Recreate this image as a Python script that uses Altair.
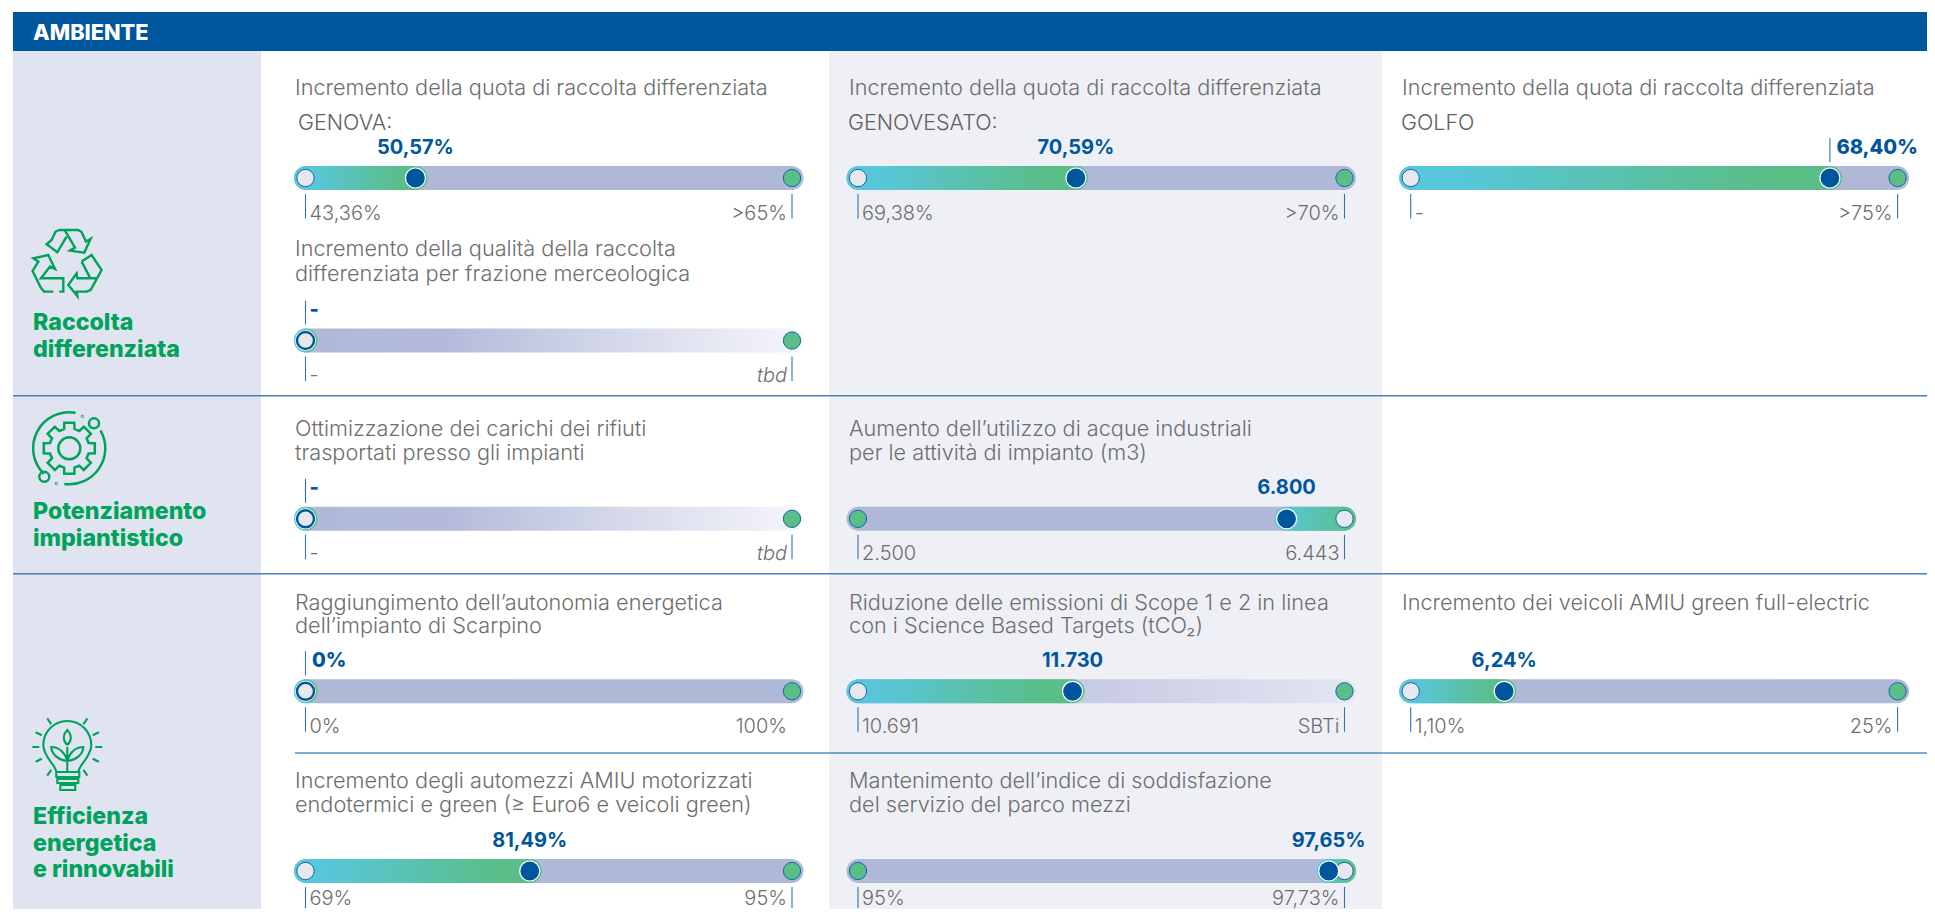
import math
import altair as alt
import pandas as pd

# ---------- chart content ----------
section_title = "AMBIENTE"
categories = [["Raccolta", "differenziata"],
              ["Potenziamento", "impiantistico"],
              ["Efficienza", "energetica", "e rinnovabili"]]
gauge_titles = [
    ["Incremento della quota di raccolta differenziata"],
    ["Incremento della quota di raccolta differenziata"],
    ["Incremento della quota di raccolta differenziata"],
    ["Incremento della qualità della raccolta", "differenziata per frazione merceologica"],
    ["Ottimizzazione dei carichi dei rifiuti", "trasportati presso gli impianti"],
    ["Aumento dell’utilizzo di acque industriali", "per le attività di impianto (m3)"],
    ["Raggiungimento dell’autonomia energetica", "dell’impianto di Scarpino"],
    ["Riduzione delle emissioni di Scope 1 e 2 in linea", "con i Science Based Targets (tCO₂)"],
    ["Incremento dei veicoli AMIU green full-electric"],
    ["Incremento degli automezzi AMIU motorizzati", "endotermici e green (≥ Euro6 e veicoli green)"],
    ["Mantenimento dell’indice di soddisfazione", "del servizio del parco mezzi"],
]
sub_labels = ["GENOVA:", "GENOVESATO:", "GOLFO", "", "", "", "", "", "", "", ""]
value_labels = ["50,57%", "70,59%", "68,40%", "-", "-", "6.800", "0%", "11.730", "6,24%", "81,49%", "97,65%"]
start_labels = ["43,36%", "69,38%", "-", "-", "-", "2.500", "0%", "10.691", "1,10%", "69%", "95%"]
end_labels = [">65%", ">70%", ">75%", "tbd", "tbd", "6.443", "100%", "SBTi", "25%", "95%", "97,73%"]
# where the current value sits along the track (0 = left dot, 1 = right dot)
value_positions = [0.226, 0.448, 0.861, 0.0, 0.0, 0.881, 0.0, 0.441, 0.192, 0.461, 0.9675]

# ---------- layout (page pixels) ----------
W, H = 1919, 901
R, B = 8 + W, 8 + H
col_of = [0, 1, 2, 0, 0, 1, 0, 1, 2, 0, 1]
row_of = [0, 0, 0, 1, 2, 2, 3, 3, 3, 4, 4]
col_left = [305.5, 858.0, 1410.7]
col_right = [792.0, 1344.5, 1897.6]
col_text = [295, 849, 1402]
row_y = [178, 340.5, 518.8, 691.3, 871]
row_label_gap = [29.5, 29.5, 29.5, 29.5, 22]   # last row is kept inside the page
row_tick_end = [28.5, 28.5, 28.5, 28.5, 25]
title_base = [[95], [256, 281], [435.5, 459.5], [609.5, 632.5], [788, 811.7]]
reversed_g = {5, 10}
fade_g = {3, 4}
soft_g = {7}
left_value_tick = {2, 3, 4, 6}
no_end_tick = {6}

rows = []
for i in range(11):
    c, r = col_of[i], row_of[i]
    a, b = col_left[c], col_right[c]
    rows.append(dict(i=i, y=row_y[r], dl=a, dr=b, tl=a - 11.5, tr=b + 11.5,
                     v=a + value_positions[i] * (b - a),
                     top=row_y[r] - 12, bot=row_y[r] + 12,
                     lab=row_y[r] + 12 + row_label_gap[r], tick=row_y[r] + 12 + row_tick_end[r]))
g = pd.DataFrame(rows)

X = alt.Scale(domain=[8, R], range=[0, W], nice=False, zero=False)
Y = alt.Scale(domain=[8, B], range=[0, H], nice=False, zero=False)
xe = lambda f: alt.X(f"{f}:Q", scale=X, axis=None)
ye = lambda f: alt.Y(f"{f}:Q", scale=Y, axis=None)
x2 = lambda f: alt.X2(f"{f}:Q")
y2 = lambda f: alt.Y2(f"{f}:Q")


def grad(stops):
    return alt.LinearGradient(gradient="linear", x1=0, x2=1, y1=0, y2=0,
                              stops=[alt.GradientStop(color=c, offset=o) for o, c in stops])


def rects(df, **kw):
    return alt.Chart(df).mark_rect(**kw).encode(x=xe("x"), x2=x2("x2"), y=ye("y"), y2=y2("y2"))


layers = []

# backgrounds
bg = pd.DataFrame([
    dict(x=13, x2=261, y=51, y2=B, c="#E0E3F0"),
    dict(x=829, x2=1382, y=51, y2=B, c="#EFF0F6"),
    dict(x=13, x2=R, y=12, y2=51, c="#00569D"),
])
layers.append(alt.Chart(bg).mark_rect().encode(
    x=xe("x"), x2=x2("x2"), y=ye("y"), y2=y2("y2"), color=alt.Color("c:N", scale=None)))

# separators
sep = pd.DataFrame([dict(x=13, x2=R, y=395.7), dict(x=13, x2=R, y=573.8)])
layers.append(alt.Chart(sep).mark_rule(color="#4A80B8", strokeWidth=1.6).encode(x=xe("x"), x2=x2("x2"), y=ye("y")))
sep2 = pd.DataFrame([dict(x=295, x2=R, y=753)])
layers.append(alt.Chart(sep2).mark_rule(color="#00569D", strokeWidth=1).encode(x=xe("x"), x2=x2("x2"), y=ye("y")))

# tracks
track = g.assign(x=g.tl, x2=g.tr, y=g.top, y2=g.bot)
solid = track[~track.i.isin(fade_g | soft_g)]
layers.append(rects(solid, cornerRadius=12, color="#B0B8D8"))
layers.append(rects(track[track.i.isin(fade_g)], cornerRadius=12,
                    color=grad([(0, "#B0B8D8"), (0.3, "#B4BBDA"), (0.55, "#CDD1E6"), (1, "#F6F6FB")])))
layers.append(rects(track[track.i.isin(soft_g)], cornerRadius=12,
                    color=grad([(0, "#B0B8D8"), (0.45, "#C6CAE3"), (1, "#E4E6F2")])))

# progress segments
fwd = g[~g.i.isin(reversed_g)]
fwd = fwd.assign(x=fwd.tl, x2=fwd.v + 12, y=fwd.top, y2=fwd.bot)
layers.append(rects(fwd, cornerRadius=12, color=grad([(0, "#58C8DF"), (0.15, "#58C6D8"), (0.8, "#5ABE8A"), (1, "#5ABE87")])))
rev = g[g.i.isin(reversed_g)]
rev = rev.assign(x=rev.v - 12, x2=rev.tr, y=rev.top, y2=rev.bot)
layers.append(rects(rev, cornerRadius=12, color=grad([(0, "#58C8DF"), (1, "#5ABE87")])))

# end dots
pts = []
for _, r in g.iterrows():
    idx = int(r.i)
    rev_flag = idx in reversed_g
    pts.append(dict(x=r.dl, y=r.y, kind="target" if rev_flag else "base", zero=value_positions[idx] == 0))
    pts.append(dict(x=r.dr, y=r.y, kind="base" if rev_flag else "target", zero=False))
pts = pd.DataFrame(pts)
base = pts[(pts.kind == "base") & (~pts.zero)]
zero = pts[(pts.kind == "base") & (pts.zero)]
target = pts[pts.kind == "target"]
layers.append(alt.Chart(base).mark_point(shape="circle", filled=True, size=300, fill="#E7E8ED", stroke="#1565A8", strokeWidth=1, opacity=1)
              .encode(x=xe("x"), y=ye("y")))
layers.append(alt.Chart(target).mark_point(shape="circle", filled=True, size=300, fill="#5ABE87", stroke="#1565A8", strokeWidth=1, opacity=1)
              .encode(x=xe("x"), y=ye("y")))
layers.append(alt.Chart(zero).mark_point(shape="circle", filled=True, size=441, fill="#FFFFFF", opacity=1)
              .encode(x=xe("x"), y=ye("y")))
layers.append(alt.Chart(zero).mark_point(shape="circle", filled=True, size=290, fill="#E7E8ED", stroke="#00569D", strokeWidth=2.4, opacity=1)
              .encode(x=xe("x"), y=ye("y")))

# current value dots
cur = g[g.i.map(lambda k: value_positions[int(k)] > 0)]
layers.append(alt.Chart(cur).mark_point(shape="circle", filled=True, size=400, fill="#00569D", stroke="#FFFFFF", strokeWidth=1.2, opacity=1)
              .encode(x=xe("v"), y=ye("y")))

# ticks
tk = []
for _, r in g.iterrows():
    idx = int(r.i)
    tk.append(dict(x=r.dl, y=r.bot + 4, y2=r.tick))
    if idx not in no_end_tick:
        tk.append(dict(x=r.dr, y=r.bot + 4, y2=r.tick))
    if idx in left_value_tick:
        tk.append(dict(x=r.v, y=r.top - 28, y2=r.top - 4))
layers.append(alt.Chart(pd.DataFrame(tk)).mark_rule(color="#2E73B0", strokeWidth=1.1).encode(x=xe("x"), y=ye("y"), y2=y2("y2")))

# text helpers
FONT = "Inter"


def text_layer(records, **kw):
    return alt.Chart(pd.DataFrame(records)).mark_text(font=FONT, baseline="alphabetic", **kw).encode(
        x=xe("x"), y=ye("y"), text="t:N")


title_rows = []
for i, lines in enumerate(gauge_titles):
    for ln, t in enumerate(lines):
        title_rows.append(dict(x=col_text[col_of[i]], y=title_base[row_of[i]][ln], t=t))
layers.append(text_layer(title_rows, align="left", fontSize=21.7, fontWeight=300, color="#6E6E6E"))

sub_x = [298, 848, 1401]
layers.append(text_layer([dict(x=sub_x[i], y=130, t=sub_labels[i]) for i in range(3)],
                         align="left", fontSize=21.5, fontWeight=300, color="#5F5F5F"))

center_v = [dict(x=g.v[i], y=g.top[i] - 12.5, t=value_labels[i]) for i in range(11) if i not in left_value_tick]
left_v = [dict(x=g.v[i] + (4 if value_labels[i] == "-" else 6.5), y=g.top[i] - 12.5, t=value_labels[i]) for i in left_value_tick]
layers.append(text_layer(center_v, align="center", fontSize=20, fontWeight=700, color="#00569D"))
layers.append(text_layer(left_v, align="left", fontSize=20, fontWeight=800, color="#00569D"))

layers.append(text_layer([dict(x=g.dl[i] + 4, y=g.lab[i], t=start_labels[i]) for i in range(11)],
                         align="left", fontSize=20, fontWeight=300, color="#6E6E6E"))
layers.append(text_layer([dict(x=g.dr[i] - 5, y=g.lab[i], t=end_labels[i]) for i in range(11) if end_labels[i] != "tbd"],
                         align="right", fontSize=20, fontWeight=300, color="#6E6E6E"))
layers.append(text_layer([dict(x=g.dr[i] - 5, y=g.lab[i], t=end_labels[i]) for i in range(11) if end_labels[i] == "tbd"],
                         align="right", fontSize=20, fontWeight=300, fontStyle="italic", color="#6E6E6E"))

# left column
cat_base = [[330, 356.5], [519, 546], [824, 851, 876.5]]
cat_rows = [dict(x=33, y=cat_base[c][l], t=t) for c, lines in enumerate(categories) for l, t in enumerate(lines)]
layers.append(text_layer(cat_rows, align="left", fontSize=23.2, fontWeight=800, color="#00A35B"))
layers.append(text_layer([dict(x=33, y=40, t=section_title)], align="left", fontSize=21.7, fontWeight=800, color="#FFFFFF"))

# ---------- icons (outline glyphs, in px around their centre) ----------
recycle_src = [
    [(95, 90), (80, 103), (112, 127), (140, 80)],
    [(95, 90), (107, 65), (118, 60), (175, 60), (185, 66), (198, 95), (212, 87), (193, 128), (150, 122), (165, 113), (135, 62)],
    [(118, 245), (130, 245), (130, 205), (63, 205), (90, 170), (105, 177), (85, 135), (40, 145), (55, 155), (38, 183), (62, 232), (72, 245), (100, 245)],
    [(185, 155), (215, 135), (245, 180), (212, 240), (200, 245), (170, 245), (172, 258), (145, 225), (170, 190), (172, 205), (233, 205)],
    [(185, 155), (210, 203)],
]
recycle = " ".join("M" + " L".join(f"{(x - 142) / 3:.1f} {(y - 160) / 3:.1f}" for x, y in s) for s in recycle_src)


def circle(cx, cy, r):
    return f"M{cx - r:.1f} {cy:.1f} A{r} {r} 0 1 0 {cx + r:.1f} {cy:.1f} A{r} {r} 0 1 0 {cx - r:.1f} {cy:.1f}"


def polar(r, deg):
    return r * math.cos(math.radians(deg)), r * math.sin(math.radians(deg))


gear_pts = []
for k in range(8):
    a = k * 45 - 90
    for rr, d in ((20, -15), (26, -11), (26, 11), (20, 15)):
        gear_pts.append(polar(rr, a + d))
gear = "M" + " L".join(f"{x:.1f} {y:.1f}" for x, y in gear_pts) + " Z"
gx0, gy0 = polar(36, -80)
gx1, gy1 = polar(36, 135)
gx2, gy2 = polar(36, -30)
gx3, gy3 = polar(36, 98)
cog = (gear + " " + circle(0, 0, 11)
       + f" M{gx0:.1f} {gy0:.1f} A36 36 0 0 0 {gx1:.1f} {gy1:.1f}"
       + f" M{gx2:.1f} {gy2:.1f} A36 36 0 0 1 {gx3:.1f} {gy3:.1f}"
       + " " + circle(24.7, -25, 5) + " " + circle(-25, 28.5, 5)
       + " " + circle(13, -32, 0.4) + " " + circle(-13, 35, 0.4))

ray_angles = [-125, -155, -180, 155, 125, 55, 25, 0, -25, -55]
rays = " ".join("M{:.1f} {:.1f} L{:.1f} {:.1f}".format(*polar(28, a), *polar(35, a)) for a in ray_angles)
bulb = (
    "M-11 25 C-12 17 -24 10 -24 -2 A24 24 0 0 1 24 -2 C24 10 12 17 11 25 "
    "M-11 25 L12 25 L12 30 L-11 30 Z M-10 32 L11 32 L11 36 L-10 36 Z M-7 38 L8 38 L8 43 L-7 43 Z "
    "M0 25 L0 0 M0 -2 C-6 -8 -3 -14 0 -17 C3 -14 6 -8 0 -2 "
    "M0 14 C-10 13 -16 6 -16 0 C-8 0 -2 6 0 14 M0 14 C10 13 16 6 16 0 C8 0 2 6 0 14 "
    + rays
)

icons = [(recycle, 67.3, 263.3, 2.4), (cog, 69.3, 448.3, 2.5), (bulb, 67.3, 747, 2.1)]
for path, ix, iy, sw in icons:
    layers.append(alt.Chart(pd.DataFrame([dict(x=ix, y=iy)])).mark_point(
        shape=path, size=4, filled=False, stroke="#00A35B", strokeWidth=sw, opacity=1
    ).encode(x=xe("x"), y=ye("y")))

chart = alt.layer(*layers).properties(width=W, height=H, padding=0, background="#FFFFFF", autosize=alt.AutoSizeParams(type="none")).configure_view(stroke=None)
chart.save("out.html", embed_options={"renderer": "svg", "actions": False})
